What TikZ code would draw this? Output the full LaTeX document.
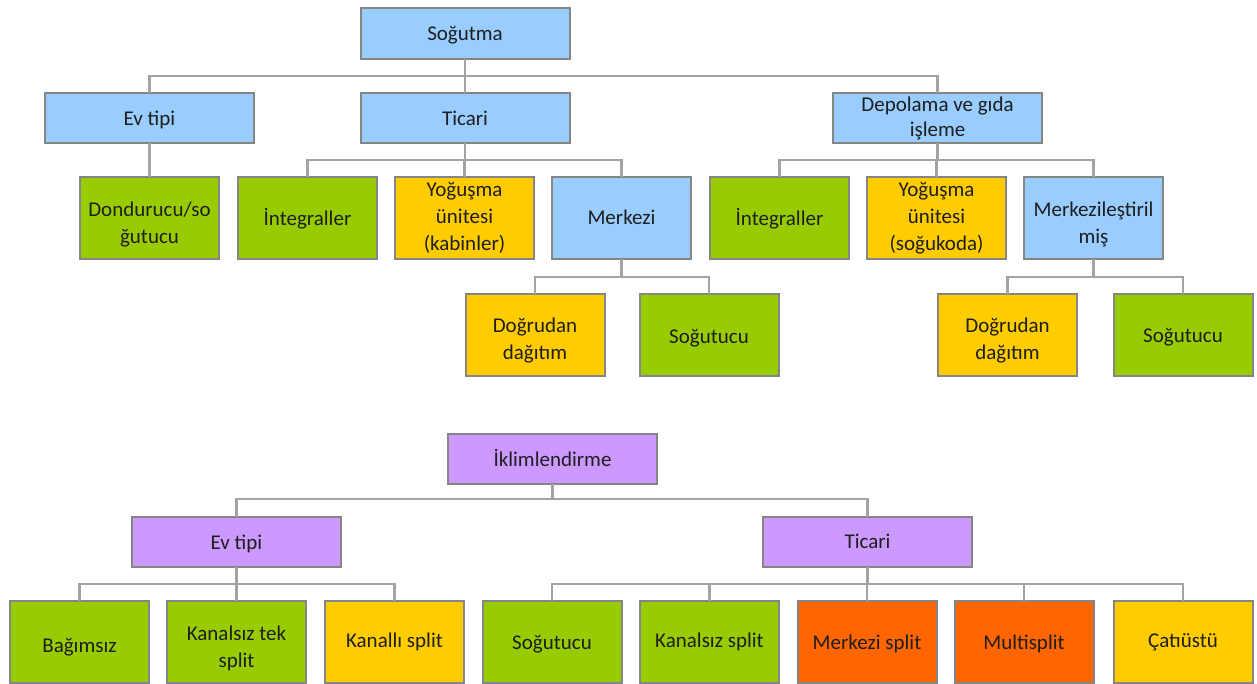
\documentclass[tikz,border=0pt]{standalone}
\usepackage{fontspec}
\setmainfont{Carlito}
\definecolor{cblue}{HTML}{99CCFF}
\definecolor{cgreen}{HTML}{99CC00}
\definecolor{cyellow}{HTML}{FFCC00}
\definecolor{corange}{HTML}{FF6600}
\definecolor{cpurple}{HTML}{CC99FF}
\definecolor{cborder}{HTML}{858585}
\definecolor{cline}{HTML}{A3A3A3}
\definecolor{ctext}{HTML}{1E1E1E}
% text block, pushed down by half of the optional amount
\newcommand\tb[2][4pt]{\raisebox{0pt}[\dimexpr\height+#1\relax]{\begin{tabular}{@{}c@{}}#2\end{tabular}}}
\tikzset{
  box/.style={draw=cborder, line width=2pt, inner sep=0pt, outer sep=0pt,
    text=ctext, font=\fontsize{21}{27}\selectfont},
  wide/.style={box, minimum width=209pt, minimum height=50pt},
  leaf/.style={box, minimum width=139pt, minimum height=82pt},
  conn/.style={draw=cline, line width=2.2pt},
}
\begin{document}
\begin{tikzpicture}[x=1pt,y=-1pt]
\useasboundingbox (0,0) rectangle (1257,684);
% bus levels
\coordinate (b1) at (0,76);
\coordinate (b2) at (0,160);
\coordinate (b3) at (0,277);
\coordinate (b4) at (0,499);
\coordinate (b5) at (0,584);
% top tree
\node[wide, fill=cblue, minimum height=51pt] (s0) at (465,33.5) {\tb{Soğutma}};
\node[wide, fill=cblue] (s1) at (149.5,118.5) {\tb{Ev tipi}};
\node[wide, fill=cblue] (s2) at (465,118.5) {\tb{Ticari}};
\node[wide, fill=cblue] (s3) at (937.5,118.5) {\def\arraystretch{0.9}\tb[1pt]{Depolama ve gıda\\işleme}};
\node[leaf, fill=cgreen] (s11) at (149.5,218) {\tb[14pt]{Dondurucu/so\\ğutucu}};
\node[leaf, fill=cgreen] (s21) at (307.5,218) {\tb{İntegraller}};
\node[leaf, fill=cyellow] (s22) at (464.5,218) {\tb[0pt]{Yoğuşma\\ünitesi\\(kabinler)}};
\node[leaf, fill=cblue] (s23) at (621.5,218) {\tb[2pt]{Merkezi}};
\node[leaf, fill=cgreen] (s31) at (779.5,218) {\tb{İntegraller}};
\node[leaf, fill=cyellow] (s32) at (936.5,218) {\tb[0pt]{Yoğuşma\\ünitesi\\(soğukoda)}};
\node[leaf, fill=cblue] (s33) at (1093.5,218) {\tb[14pt]{Merkezileştiril\\miş}};
\node[leaf, fill=cyellow] (s231) at (535,335) {\tb[11pt]{Doğrudan\\dağıtım}};
\node[leaf, fill=cgreen] (s232) at (709,335) {\tb[7pt]{Soğutucu}};
\node[leaf, fill=cyellow] (s331) at (1007.5,335) {\tb[11pt]{Doğrudan\\dağıtım}};
\node[leaf, fill=cgreen] (s332) at (1183,335) {\tb[5pt]{Soğutucu}};
% bottom tree
\node[wide, fill=cpurple] (i0) at (552.5,458.5) {\tb[6pt]{İklimlendirme}};
\node[wide, fill=cpurple] (i1) at (236.5,542) {\tb{Ev tipi}};
\node[wide, fill=cpurple] (i2) at (867.5,542) {\tb[2pt]{Ticari}};
\node[leaf, fill=cgreen] (i11) at (79.5,641.5) {\tb[11pt]{Bağımsız}};
\node[leaf, fill=cgreen] (i12) at (236.5,641.5) {\tb[14pt]{Kanalsız tek\\split}};
\node[leaf, fill=cyellow] (i13) at (394.5,641.5) {\tb[1pt]{Kanallı split}};
\node[leaf, fill=cgreen] (i21) at (552,641.5) {\tb[5pt]{Soğutucu}};
\node[leaf, fill=cgreen] (i22) at (709.5,641.5) {\tb[2pt]{Kanalsız split}};
\node[leaf, fill=corange] (i23) at (867,641.5) {\tb[5pt]{Merkezi split}};
\node[leaf, fill=corange] (i24) at (1024,641.5) {\tb[5pt]{Multisplit}};
\node[leaf, fill=cyellow] (i25) at (1183,641.5) {\tb[1pt]{Çatıüstü}};
% connectors
\foreach \p/\c/\b in {s0/s1/b1, s0/s2/b1, s0/s3/b1,
  s2/s21/b2, s2/s22/b2, s2/s23/b2,
  s3/s31/b2, s3/s32/b2, s3/s33/b2,
  s23/s231/b3, s23/s232/b3, s33/s331/b3, s33/s332/b3,
  i0/i1/b4, i0/i2/b4,
  i1/i11/b5, i1/i12/b5, i1/i13/b5,
  i2/i21/b5, i2/i22/b5, i2/i23/b5, i2/i24/b5, i2/i25/b5}
  \draw[conn] (\p.south) -- (\p.south |- \b) -| (\c.north);
\draw[conn] (s1.south) -- (s11.north);
\end{tikzpicture}
\end{document}
